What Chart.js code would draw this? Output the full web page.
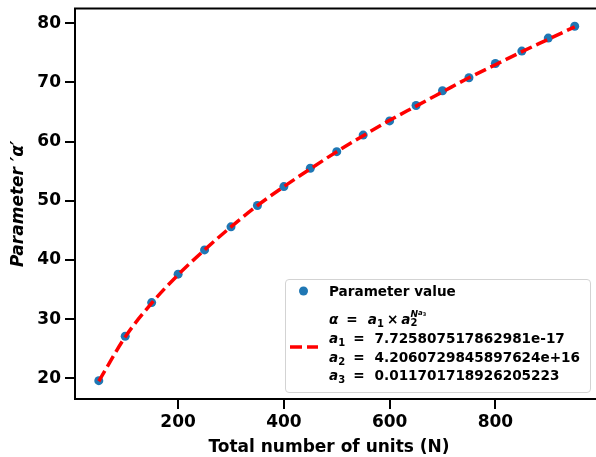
<!DOCTYPE html>
<html>
<head>
<meta charset="utf-8">
<script src="https://cdn.jsdelivr.net/npm/chart.js@4.4.0/dist/chart.umd.min.js"></script>
<style>
  html, body { margin: 0; padding: 0; background: #fff; overflow: hidden; }
  #wrap { position: relative; width: 603px; height: 457px; }
  #chart { position: absolute; left: 0; top: 0; }
  #legend {
    position: absolute; left: 285px; top: 279px; width: 304px; height: 112px;
    border: 1px solid #d3d3d3; border-radius: 4px; background: rgba(255,255,255,0.8);
    font-family: "DejaVu Sans", sans-serif; font-weight: bold; font-size: 13.6px; color: #000;
  }
  #legend .ln { position: absolute; left: 43px; line-height: 18px; white-space: nowrap; }
  #legend i { font-style: italic; }
  #legend .eq { margin: 0 10px 0 8px; }
  #legend .x { margin: 0 3px; }
  #legend .sb { font-size: 10px; position: relative; top: 3px; }
  #legend .stack { display: inline-block; position: relative; width: 22px; height: 14px; }
  #legend .stack .s2 { position: absolute; left: 0; top: 8px; font-size: 10px; line-height: 10px; }
  #legend .stack .sN { position: absolute; left: 0; top: 0; font-size: 9px; line-height: 9px; }
  #legend .stack .sN .ss { font-size: 7px; position: relative; top: -2px; }
  #legend .stack .sN .ss .sb3 { font-size: 5px; position: relative; top: 1px; }
</style>
</head>
<body>
<div id="wrap">
  <canvas id="chart" width="603" height="457"></canvas>
  <div id="legend">
    <svg style="position:absolute;left:0;top:0" width="40" height="110">
      <circle cx="17.5" cy="11" r="4.5" fill="#1f77b4"></circle>
      <line x1="4" y1="67" x2="32" y2="67" stroke="red" stroke-width="3.5" stroke-dasharray="12,5"></line>
    </svg>
    <div class="ln" style="top:2px">Parameter value</div>
    <div class="ln" style="top:30px"><i>α</i><span class="eq">=</span><i>a</i><span class="sb">1</span><span class="x">×</span><i>a</i><span class="stack"><span class="sN"><i>N</i><span class="ss"><i>a</i><span class="sb3">3</span></span></span><span class="s2">2</span></span></div>
    <div class="ln" style="top:49px"><i>a</i><span class="sb">1</span><span class="eq">=</span>7.725807517862981e-17</div>
    <div class="ln" style="top:67.5px"><i>a</i><span class="sb">2</span><span class="eq">=</span>4.2060729845897624e+16</div>
    <div class="ln" style="top:86px"><i>a</i><span class="sb">3</span><span class="eq">=</span>0.011701718926205223</div>
  </div>
</div>
<script>
const unitCounts = [50, 100, 150, 200, 250, 300, 350, 400, 450, 500, 550, 600, 650, 700, 750, 800, 850, 900, 950];
const paramValues = [19.6, 27.1, 32.8, 37.6, 41.7, 45.6, 49.2, 52.4, 55.5, 58.3, 61.1, 63.5, 66.1, 68.6, 70.8, 73.2, 75.3, 77.5, 79.5];
const fitValues = [19.5, 27.0, 32.7, 37.5, 41.7, 45.6, 49.2, 52.4, 55.4, 58.3, 61.0, 63.6, 66.0, 68.4, 70.8, 73.0, 75.2, 77.3, 79.4];
const xTicks = [200, 400, 600, 800];
const yTicks = [20, 30, 40, 50, 60, 70, 80];
const xTitle = 'Total number of units (N)';

Chart.defaults.font.family = '"DejaVu Sans", sans-serif';
Chart.defaults.color = '#000';

// full box round the plot area, like matplotlib spines, plus the x label
const frame = {
    id: 'frame',
    afterDraw(chart) {
        const a = chart.chartArea;
        const ctx = chart.ctx;
        ctx.save();
        ctx.strokeStyle = '#000';
        ctx.lineWidth = 2;
        ctx.strokeRect(a.left, a.top, a.right - a.left, a.bottom - a.top);
        ctx.font = 'bold 17px "DejaVu Sans", sans-serif';
        ctx.fillStyle = '#000';
        ctx.textAlign = 'center';
        ctx.textBaseline = 'alphabetic';
        ctx.fillText(xTitle, 329, 451.5);
        ctx.restore();
    }
};

const ctx = document.getElementById('chart').getContext('2d');
const chart = new Chart(ctx, {
    type: 'scatter',
    data: {
        datasets: [
            {
                label: 'fit',
                data: unitCounts.map((x, i) => ({ x: x, y: fitValues[i] })),
                showLine: true,
                borderColor: 'red',
                borderWidth: 3.5,
                borderDash: [12, 5],
                pointRadius: 0,
                cubicInterpolationMode: 'monotone',
                order: 0
            },
            {
                label: 'Parameter value',
                data: unitCounts.map((x, i) => ({ x: x, y: paramValues[i] })),
                backgroundColor: '#1f77b4',
                borderWidth: 0,
                pointRadius: 4.5,
                order: 1
            }
        ]
    },
    options: {
        responsive: false,
        animation: false,
        layout: { padding: { top: 8.5, right: 2, left: 0, bottom: 0 } },
        plugins: { legend: { display: false }, tooltip: { enabled: false } },
        scales: {
            x: {
                type: 'linear',
                min: 5,
                max: 995,
                afterBuildTicks: scale => { scale.ticks = xTicks.map(v => ({ value: v })); },
                afterFit: scale => { scale.height = 58; scale.paddingLeft = 0; scale.paddingRight = 0; },
                grid: { drawOnChartArea: false, drawTicks: true, tickLength: 10, color: '#000', lineWidth: 2 },
                border: { display: false },
                ticks: { font: { size: 17, weight: 'bold' }, padding: 3, maxRotation: 0 }
            },
            y: {
                type: 'linear',
                min: 16.5,
                max: 82.5,
                afterBuildTicks: scale => { scale.ticks = yTicks.map(v => ({ value: v })); },
                afterFit: scale => { scale.width = 75; scale.paddingTop = 0; scale.paddingBottom = 0; },
                grid: { drawOnChartArea: false, drawTicks: true, tickLength: 10, color: '#000', lineWidth: 2 },
                border: { display: false },
                ticks: { font: { size: 17, weight: 'bold' }, padding: 4 },
                title: {
                    display: true,
                    text: 'Parameter \u2032\u03b1\u2032',
                    font: { size: 17, style: 'italic', weight: 'bold' },
                    padding: { top: 8, bottom: 0 }
                }
            }
        }
    },
    plugins: [frame]
});
</script>
</body>
</html>
